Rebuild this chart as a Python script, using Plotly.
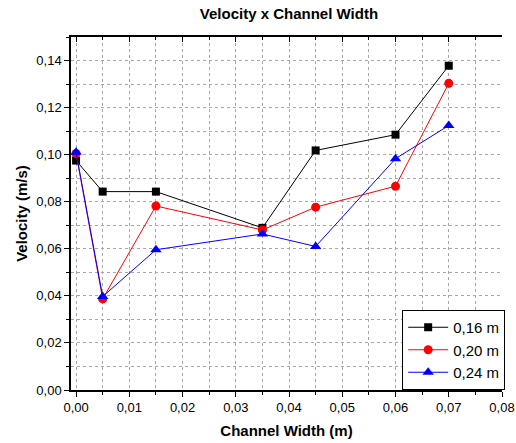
import plotly.graph_objects as go

x_vals = [0.0, 0.005, 0.015, 0.035, 0.045, 0.06, 0.07]
v_016 = [0.0975, 0.0843, 0.0843, 0.0689, 0.1018, 0.1085, 0.1378]
v_020 = [0.1005, 0.0387, 0.0782, 0.0680, 0.0777, 0.0866, 0.1303]
v_024 = [0.1010, 0.0397, 0.0596, 0.0663, 0.0610, 0.0983, 0.1124]
series_names = ["0,16 m", "0,20 m", "0,24 m"]
x_ticks = [0.0, 0.01, 0.02, 0.03, 0.04, 0.05, 0.06, 0.07, 0.08]
x_ticklabels = ["0,00", "0,01", "0,02", "0,03", "0,04", "0,05", "0,06", "0,07", "0,08"]
y_ticks = [0.0, 0.02, 0.04, 0.06, 0.08, 0.10, 0.12, 0.14]
y_ticklabels = ["0,00", "0,02", "0,04", "0,06", "0,08", "0,10", "0,12", "0,14"]

font = "Liberation Sans, Arial, sans-serif"
fig = go.Figure()
styles = [("black", "square", 8), ("red", "circle", 9), ("blue", "triangle-up", 10)]
for name, ys, (col, sym, sz) in zip(series_names, [v_016, v_020, v_024], styles):
    fig.add_trace(go.Scatter(x=x_vals, y=ys, name=name, mode="lines+markers",
                             line=dict(color=col, width=1),
                             marker=dict(color=col, symbol=sym, size=sz)))

# invisible trace for top axis ticks
fig.add_trace(go.Scatter(x=[None], y=[None], xaxis="x2", showlegend=False, hoverinfo="skip"))

xr = [-0.00095, 0.08]
grid = dict(showgrid=True, gridcolor="#a8a8a8", griddash="dot", gridwidth=1)
fig.update_layout(
    width=516, height=443,
    margin=dict(l=71, r=13, t=37, b=53),
    paper_bgcolor="white", plot_bgcolor="white",
    title=dict(text="<b>Velocity x Channel Width</b>", x=0.56, xanchor="center", y=0.969, yanchor="middle",
               font=dict(family=font, size=15, color="black")),
    xaxis=dict(range=xr, tickvals=x_ticks, ticktext=x_ticklabels, ticks="outside", ticklen=5,
               tickcolor="black", tickwidth=1, showline=True, linecolor="black", linewidth=1.5,
               zeroline=False, automargin=False, tickfont=dict(family=font, size=13, color="black"),
               title=dict(text="<b>Channel Width (m)</b>", font=dict(family=font, size=15, color="black"), standoff=11),
               minor=dict(dtick=0.005, tick0=0, ticks="outside", ticklen=3, tickcolor="black", **grid),
               **grid),
    xaxis2=dict(range=xr, overlaying="x", side="top", tickvals=x_ticks, showticklabels=False,
                ticks="inside", ticklen=5, tickcolor="black", showline=True, linecolor="black", linewidth=1.5,
                showgrid=False, zeroline=False, automargin=False,
                minor=dict(dtick=0.005, tick0=0, ticks="inside", ticklen=3, tickcolor="black")),
    yaxis=dict(range=[0, 0.15], tickvals=y_ticks, ticktext=y_ticklabels, ticks="outside", ticklen=5,
               tickcolor="black", tickwidth=1, showline=True, linecolor="black", linewidth=1.5,
               zeroline=False, automargin=False, tickfont=dict(family=font, size=13, color="black"),
               title=dict(text="<b>Velocity (m/s)</b>", font=dict(family=font, size=15, color="black"), standoff=5),
               minor=dict(dtick=0.01, tick0=0, ticks="outside", ticklen=3, tickcolor="black", **grid),
               **grid),
    legend=dict(x=1.005, xanchor="right", y=0.0, yanchor="bottom", bgcolor="white",
                bordercolor="black", borderwidth=1, font=dict(family=font, size=15, color="black"),
                tracegroupgap=0, itemwidth=40),
    showlegend=True,
)
fig.write_html("out.html", config={"displayModeBar": False},
               post_script="document.body.style.margin='0';document.body.style.overflow='hidden';")
